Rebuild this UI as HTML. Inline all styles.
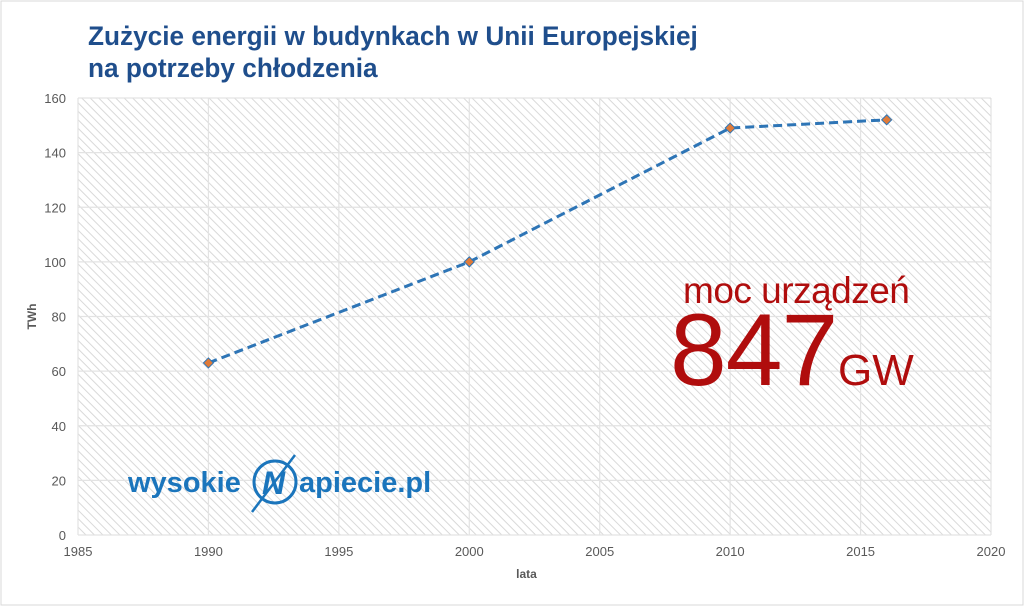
<!DOCTYPE html>
<html><head><meta charset="utf-8"><style>
body{margin:0;background:#fff;}
#wrap{position:relative;width:1024px;height:606px;overflow:hidden;font-family:"Liberation Sans",sans-serif;}
.title{position:absolute;left:88px;top:20px;font-size:27px;font-weight:bold;color:#1f4e8c;line-height:32px;transform:scaleX(0.97);transform-origin:left top;}
</style></head><body>
<div id="wrap">
<div class="title">Zużycie energii w budynkach w Unii Europejskiej<br>na potrzeby chłodzenia</div>
<svg id="svg" width="1024" height="606" style="position:absolute;left:0;top:0">
<defs><pattern id="hatch" width="6" height="6" patternUnits="userSpaceOnUse" patternTransform="rotate(-45)">
<rect width="6" height="6" fill="#fff"/><line x1="0" y1="0" x2="0" y2="6" stroke="#d9d9d9" stroke-width="2"/></pattern></defs>
<rect x="1" y="1" width="1022" height="604" fill="none" stroke="#d9d9d9"/>
</svg>
</div>
<script>
const years=[1990,2000,2010,2016];
const values=[63,100,149,152];
const yTicks=[0,20,40,60,80,100,120,140,160];
const xTicks=[1985,1990,1995,2000,2005,2010,2015,2020];
const L=78,R=991,T=98,B=535;
const xs=v=>L+(v-1985)/35*(R-L);
const ys=v=>B-v/160*(B-T);
const svg=document.getElementById('svg');
const NS='http://www.w3.org/2000/svg';
function mk(t,a,p){const e=document.createElementNS(NS,t);for(const k in a)e.setAttribute(k,a[k]);(p||svg).appendChild(e);return e;}
let bg=mk('rect',{x:L,y:T,width:R-L,height:B-T,fill:'url(#hatch)'});


yTicks.forEach(v=>{
 let g=mk('line',{x1:L,x2:R,y1:ys(v),y2:ys(v),stroke:'#e3e3e3','stroke-width':1.2});
 
 
 let t=mk('text',{x:L-12,y:ys(v)+5,'text-anchor':'end','font-size':13,fill:'#595959'});
 t.textContent=v;
 
 
});
xTicks.forEach(v=>{
 let g=mk('line',{x1:xs(v),x2:xs(v),y1:T,y2:B,stroke:'#e3e3e3','stroke-width':1.2});
 
 
 let t=mk('text',{x:xs(v),y:B+21,'text-anchor':'middle','font-size':13,fill:'#595959'});
 t.textContent=v;
 
 
});
let xt=mk('text',{x:(L+R)/2-8,y:578,'text-anchor':'middle','font-size':12,'font-weight':'bold',fill:'#595959'});
xt.textContent='lata';


let yt=mk('text',{x:0,y:0,'text-anchor':'middle','font-size':12,'font-weight':'bold',fill:'#595959',transform:'translate(36,'+((T+B)/2)+') rotate(-90)'});
yt.textContent='TWh';


let pl=mk('polyline',{points:years.map((y,i)=>xs(y)+','+ys(values[i])).join(' '),fill:'none',stroke:'#2e75b6','stroke-width':3,'stroke-dasharray':'9,5'});


years.forEach((y,i)=>{
 const cx=xs(y),cy=ys(values[i]);
 let m=mk('polygon',{points:`${cx},${cy-5} ${cx+5},${cy} ${cx},${cy+5} ${cx-5},${cy}`,fill:'#e07b39',stroke:'#2e75b6','stroke-width':1});
 
 
});
// annotation
let a1=mk('text',{x:683,y:303,'font-size':37,fill:'#b00d0d','letter-spacing':'-0.5'});
a1.textContent='moc urządzeń';


let a2=mk('text',{x:670,y:385,'font-size':102,fill:'#b00d0d','letter-spacing':'-1'});
a2.textContent='847';


let a3=mk('text',{x:838,y:385,'font-size':44,fill:'#b00d0d'});
a3.textContent='GW';


// logo
let lg=mk('g',{});


let l1=mk('text',{x:128,y:492,'font-size':29,'font-weight':'bold',fill:'#1b75bc'},lg);
l1.textContent='wysokie';


let c=mk('circle',{cx:275,cy:482,r:21,fill:'none',stroke:'#1b75bc','stroke-width':3},lg);


let n=mk('text',{x:262,y:494,'font-size':32,'font-weight':'bold','font-style':'italic',fill:'#1b75bc'},lg);
n.textContent='N';


let bolt=mk('line',{x1:295,y1:455,x2:252,y2:512,stroke:'#1b75bc','stroke-width':2.5},lg);


let l2=mk('text',{x:299,y:492,'font-size':29,'font-weight':'bold',fill:'#1b75bc'},lg);
l2.textContent='apiecie.pl';


</script>
</body></html>
